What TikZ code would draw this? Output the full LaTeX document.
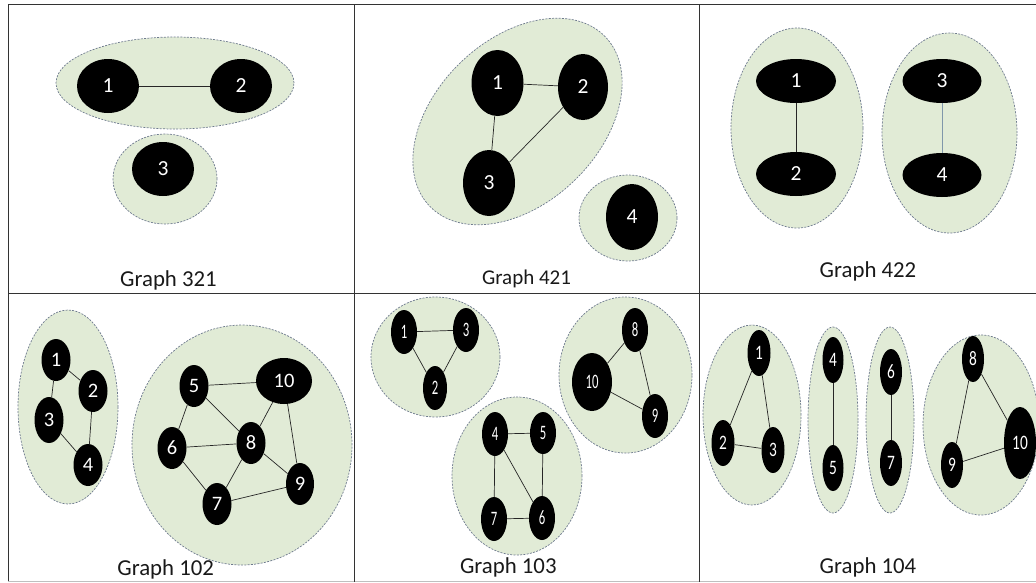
\documentclass[tikz,border=0pt]{standalone}
\usepackage{fontspec}
\usepackage{graphicx}
\setmainfont{Carlito}
\usetikzlibrary{shapes.geometric}
\definecolor{grpfill}{HTML}{E1EBD6}
\definecolor{grpline}{HTML}{6E7A8E}
\definecolor{edgeblue}{HTML}{8097AA}
\tikzset{
  grp/.style={ellipse, draw=grpline, fill=grpfill, dashed, dash pattern=on 2pt off 1.3pt, line width=0.7pt, inner sep=0pt},
  vtx/.style args={#1/#2}{ellipse, fill=black, text=white, inner sep=0pt, minimum width=#1pt, minimum height=#2pt, font=\fontsize{21.5}{21.5}\selectfont},
  vs/.style args={#1/#2}{vtx=#1/#2, font=\fontsize{20.5}{20.5}\selectfont},
  edge/.style={draw=black!85, line width=0.7pt},
  lbl/.style={anchor=base, font=\fontsize{22.8}{26}\selectfont, text=black!90},
  grid/.style={draw=black!80, line width=1pt}
}
\newcommand{\nx}[1]{\scalebox{0.62}[1]{#1}}
\newcommand{\ny}[1]{\scalebox{0.75}[1]{#1}}
\begin{document}
\begin{tikzpicture}[x=1pt,y=-1pt]
\useasboundingbox (0,0) rectangle (1036,582);
% grid
\coordinate (tl) at (8,4); \coordinate (tr) at (1036,4);
\coordinate (ml) at (8,293); \coordinate (mr) at (1036,293);
\coordinate (bl) at (8,581); \coordinate (br) at (1036,581);
\coordinate (v1t) at (354,4); \coordinate (v1b) at (354,582);
\coordinate (v2t) at (699,4); \coordinate (v2b) at (699,582);
\draw[grid] (tl) -- (tr);
\draw[grid] (ml) -- (mr);
\draw[grid, draw=black!25] (bl) -- (br);
\draw[grid] (tl) -- (bl);
\draw[grid] (v1t) -- (v1b);
\draw[grid] (v2t) -- (v2b);

% ---------- Graph 321
\node[grp, minimum width=238pt, minimum height=92pt] (a-g1) at (175,83) {};
\node[grp, minimum width=104pt, minimum height=90pt] (a-g2) at (165,179) {};
\node[vtx=62/54] (a1) at (108,86) {1};
\node[vtx=62/54] (a2) at (241,86) {2};
\node[vtx=62/54] (a3) at (163,169) {3};
\draw[edge] (a1) -- (a2);
\node[lbl] (a-l) at (168.5,286) {Graph 321};

% ---------- Graph 421
\node[grp, minimum width=244pt, minimum height=164pt, rotate=44] (b-g1) at (517.5,121.5) {};
\node[grp, minimum width=98pt, minimum height=86pt] (b-g2) at (628,218) {};
\node[vtx=52/66] (b1) at (497.5,83) {1};
\node[vtx=50/66] (b2) at (583,87) {2};
\node[vtx=52/66] (b3) at (489,183) {3};
\node[vtx=52/66] (b4) at (632,217) {4};
\draw[edge] (b1) -- (b2);
\draw[edge] (b1) -- (b3);
\draw[edge] (b2) -- (b3);
\node[lbl, font=\fontsize{21}{24}\selectfont] (b-l) at (526.5,284) {Graph 421};

% ---------- Graph 422
\node[grp, minimum width=132pt, minimum height=200pt] (c-g1) at (797,128) {};
\node[grp, minimum width=135pt, minimum height=200pt] (c-g2) at (949.5,133) {};
\node[vtx=80/44] (c1) at (796,81) {1};
\node[vtx=80/44] (c2) at (796,174) {2};
\node[vtx=79/44] (c3) at (942,81) {3};
\node[vtx=79/44] (c4) at (942,175) {4};
\draw[edge] (c1) -- (c2);
\draw[edge, draw=edgeblue] (c3) -- (c4);
\node[lbl] (c-l) at (868,277) {Graph 422};

% ---------- Graph 102
\node[grp, minimum width=100pt, minimum height=194pt] (d-g1) at (68,407) {};
\node[grp, minimum width=220pt, minimum height=240pt] (d-g2) at (242,445) {};
\node[vs=29/42] (d1) at (56,360) {1};
\node[vs=29/42] (d2) at (93,391) {2};
\node[vs=29/46] (d3) at (49,420) {3};
\node[vs=29/42] (d4) at (88,465) {4};
\node[vs=29/42] (d5) at (194,386) {5};
\node[vs=56/46] (d10) at (284,381) {10};
\node[vs=29/42] (d6) at (172,448) {6};
\node[vs=29/42] (d8) at (251,443) {8};
\node[vs=28/42] (d9) at (300,484) {9};
\node[vs=29/42] (d7) at (217,504) {7};
\draw[edge] (d1) -- (d2);
\draw[edge] (d1) -- (d3);
\draw[edge] (d2) -- (d4);
\draw[edge] (d3) -- (d4);
\draw[edge] (d5) -- (d10);
\draw[edge] (d5) -- (d6);
\draw[edge] (d5) -- (d8);
\draw[edge] (d10) -- (d8);
\draw[edge] (d10) -- (d9);
\draw[edge] (d6) -- (d8);
\draw[edge] (d6) -- (d7);
\draw[edge] (d8) -- (d7);
\draw[edge] (d8) -- (d9);
\draw[edge] (d7) -- (d9);
\node[lbl] (d-l) at (165.7,575) {Graph 102};

% ---------- Graph 103
\node[grp, minimum width=129pt, minimum height=120pt] (e-g1) at (435.5,357) {};
\node[grp, minimum width=133pt, minimum height=156pt] (e-g2) at (625.5,375) {};
\node[grp, minimum width=130pt, minimum height=158pt] (e-g3) at (517,476) {};
\node[vs=26/44] (e1) at (404,332) {\nx{1}};
\node[vs=26/44] (e3) at (466,330) {\nx{3}};
\node[vs=24/44] (e2) at (435,388) {\nx{2}};
\node[vs=26/44] (e8) at (635,330) {\nx{8}};
\node[vs=40/58] (e10) at (592,382) {\nx{10}};
\node[vs=26/44] (e9) at (655,416) {\nx{9}};
\node[vs=26/44] (e4) at (495,434) {\nx{4}};
\node[vs=26/42] (e5) at (543,433) {\nx{5}};
\node[vs=26/44] (e7) at (494,519) {\nx{7}};
\node[vs=26/44] (e6) at (542,518) {\nx{6}};
\draw[edge] (e1) -- (e3);
\draw[edge] (e1) -- (e2);
\draw[edge] (e3) -- (e2);
\draw[edge] (e8) -- (e10);
\draw[edge] (e8) -- (e9);
\draw[edge] (e10) -- (e9);
\draw[edge] (e4) -- (e5);
\draw[edge] (e4) -- (e7);
\draw[edge] (e4) -- (e6);
\draw[edge] (e5) -- (e6);
\draw[edge] (e7) -- (e6);
\node[lbl] (e-l) at (508.3,573) {Graph 103};

% ---------- Graph 104
\node[grp, minimum width=98pt, minimum height=180pt] (f-g1) at (752,415) {};
\node[grp, minimum width=50pt, minimum height=186pt] (f-g2) at (833,420) {};
\node[grp, minimum width=48pt, minimum height=186pt] (f-g3) at (890,420) {};
\node[grp, minimum width=116pt, minimum height=180pt] (f-g4) at (981,425) {};
\node[vs=23/46] (f1) at (759,353) {\ny{1}};
\node[vs=23/46] (f2) at (723,443) {\ny{2}};
\node[vs=23/46] (f3) at (773,450) {\ny{3}};
\node[vs=21/46] (f4) at (833,360) {\ny{4}};
\node[vs=21/46] (f5) at (833,468) {\ny{5}};
\node[vs=22/46] (f6) at (891,372) {\ny{6}};
\node[vs=22/46] (f7) at (891,463) {\ny{7}};
\node[vs=22/46] (f8) at (973,359) {\ny{8}};
\node[vs=32/72] (f10) at (1020,443) {\ny{10}};
\node[vs=22/46] (f9) at (952,465) {\ny{9}};
\draw[edge] (f1) -- (f2);
\draw[edge] (f1) -- (f3);
\draw[edge] (f2) -- (f3);
\draw[edge] (f4) -- (f5);
\draw[edge] (f6) -- (f7);
\draw[edge] (f8) -- (f10);
\draw[edge] (f8) -- (f9);
\draw[edge] (f9) -- (f10);
\node[lbl] (f-l) at (868,573) {Graph 104};
\end{tikzpicture}
\end{document}
